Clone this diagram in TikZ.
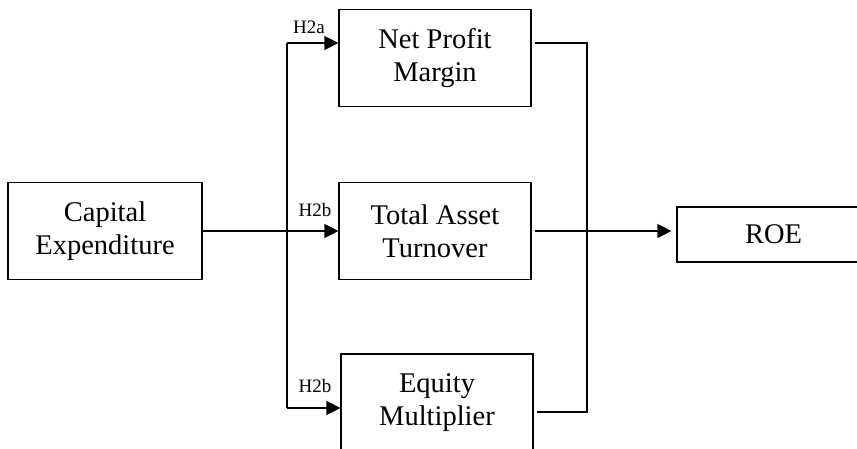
\documentclass[tikz,border=0pt]{standalone}
\usepackage{fontspec}
\setmainfont{Liberation Serif}
\usetikzlibrary{arrows.meta}
\begin{document}
\begin{tikzpicture}[x=1pt,y=-1pt,
  box/.style={draw, line width=1.2pt, minimum width=192pt, minimum height=97pt,
    align=center, inner sep=0pt, font=\fontsize{28.5}{33}\selectfont},
  link/.style={line width=1.2pt},
  arr/.style={link, -{Triangle[length=14pt,width=14pt]}},
  hyp/.style={anchor=base, inner sep=0pt, font=\fontsize{19}{22}\selectfont}]
\useasboundingbox (0,0) rectangle (857,448);
% boxes
\node[box, minimum width=194pt] (cap) at (105,231) {Capital\\Expenditure};
\node[box] (npm) at (435,58) {Net Profit\\Margin};
\node[box] (tat) at (435,231) {Total Asset\\Turnover};
\node[box] (em) at (437,402.5) {Equity\\Multiplier};
\node[box, minimum height=55pt, minimum width=193pt] (roe) at (773.5,234.5) {ROE};
% split and merge points
\coordinate (split) at (287,231);
\coordinate (inA) at (287,43);
\coordinate (inC) at (287,408);
\coordinate (merge) at (587,231);
\coordinate (outA) at (587,43);
\coordinate (outC) at (587,412);
% inputs
\draw[link] (cap.east) -- (split);
\draw[arr] (split) -- (tat.west);
\draw[link] (inA) -- (inC);
\draw[arr] (inA) -- (npm.west |- inA);
\draw[arr] (inC) -- (em.west |- inC);
% outputs
\draw[link] ([xshift=3pt]npm.east |- outA) -- (outA) -- (outC) -- ([xshift=3pt]em.east |- outC);
\draw[arr, shorten >=5pt] ([xshift=3pt]tat.east) -- (roe.west |- tat.east);
% hypothesis labels
\node[hyp] (la) at (309,33) {H2a};
\node[hyp] (lb) at (315,216) {H2b};
\node[hyp] (lc) at (315,392) {H2b};
\end{tikzpicture}
\end{document}
